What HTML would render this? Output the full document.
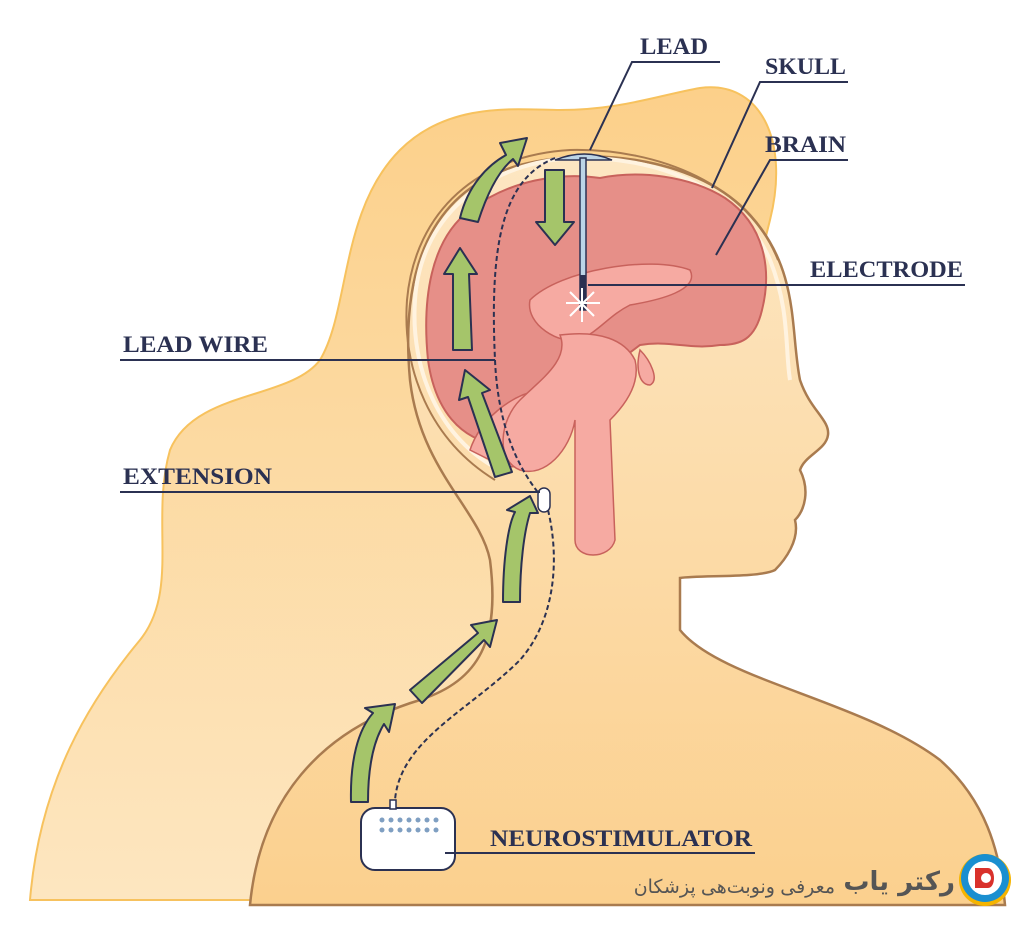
<!DOCTYPE html>
<html><head><meta charset="utf-8"><style>
html,body{margin:0;padding:0;background:#fff;width:1024px;height:926px;overflow:hidden}
text{font-family:"Liberation Serif",serif;font-weight:bold;fill:#2b3152}
</style></head><body>
<svg width="1024" height="926" viewBox="0 0 1024 926" xmlns="http://www.w3.org/2000/svg">
<defs>
<linearGradient id="hair" x1="0" y1="0" x2="0" y2="1"><stop offset="0" stop-color="#fcd08a"/><stop offset="1" stop-color="#fde6c0"/></linearGradient>
<linearGradient id="skin" x1="0" y1="0" x2="0" y2="1"><stop offset="0" stop-color="#fde6c2"/><stop offset="1" stop-color="#fbd08e"/></linearGradient>
</defs>
<path d="M30 900 C40 780 90 700 140 640 C180 590 150 520 170 450 C195 390 290 400 320 360 C350 310 340 210 400 150 C450 100 520 110 560 110 C620 110 660 95 700 88 C760 80 790 140 770 220 L760 260 L560 580 L560 900 Z" fill="url(#hair)" stroke="#f7c25e" stroke-width="2"/>
<path d="M250 905 C260 800 320 730 420 700 C480 680 500 640 490 560 C480 510 420 470 410 380 C400 270 430 190 520 165 C600 145 700 160 750 215 C800 270 790 330 800 380 C810 410 830 420 828 435 C826 450 805 455 800 470 C810 490 805 510 795 520 C800 540 785 560 775 570 C760 578 700 575 680 578 L680 630 C720 680 860 700 940 760 C985 800 1000 850 1005 905 Z" fill="url(#skin)" stroke="#a97b4f" stroke-width="2.5"/>
<path d="M500 470 C440 440 410 370 415 300 C420 220 480 165 570 158 C660 155 740 190 770 260 C790 310 785 350 790 380" fill="none" stroke="#fff3e0" stroke-width="4"/>
<path d="M495 480 C430 440 402 370 407 300 C415 210 480 155 570 150 C660 148 748 185 778 260" fill="none" stroke="#a97b4f" stroke-width="2"/>
<!-- brain -->
<path d="M500 445 C460 440 435 410 428 360 C422 300 430 240 470 210 C510 180 560 172 600 178 C640 170 690 176 725 198 C765 225 772 270 762 310 C755 340 740 345 720 345 C690 350 670 340 640 345 L620 360 C600 380 590 390 570 400 C550 420 530 440 500 445 Z" fill="#e68f88" stroke="#c8625c" stroke-width="2"/>
<path d="M470 450 C480 420 510 395 540 390 C560 395 565 420 560 440 C550 465 520 470 500 465 Z" fill="#f6aaa2" stroke="#c8625c" stroke-width="1.5"/>
<path d="M530 300 C560 270 650 255 690 270 C700 290 660 300 630 305 C610 315 600 330 580 340 C560 345 525 325 530 300 Z" fill="#f6aaa2" stroke="#c8625c" stroke-width="1.5"/>
<path d="M560 335 C570 360 540 380 520 400 C500 420 495 460 520 470 C545 478 570 450 575 420 L575 540 C575 560 610 560 615 540 L610 420 C630 400 640 380 635 360 C625 340 600 330 560 335 Z" fill="#f6aaa2" stroke="#c8625c" stroke-width="1.5"/>
<path d="M640 350 C650 360 660 380 650 385 C640 385 635 370 640 350 Z" fill="#f6aaa2" stroke="#c8625c" stroke-width="1.5"/>
<path d="M555 160 Q585 148 612 160 Z" fill="#bcd4e6" stroke="#2b3152" stroke-width="1.5"/>
<rect x="580" y="158" width="6" height="152" fill="#bcd4e6" stroke="#2b3152" stroke-width="1.5"/>
<rect x="580" y="275" width="6" height="35" fill="#2b3152"/>
<g stroke="#fff" stroke-width="2"><line x1="566" y1="303" x2="600" y2="303"/><line x1="582" y1="288" x2="582" y2="322"/><line x1="570" y1="292" x2="594" y2="316"/><line x1="594" y1="292" x2="570" y2="316"/></g>
<path d="M555 158 C500 180 490 250 495 360 C498 430 520 470 540 495 M548 510 C560 560 555 620 520 660 C470 710 400 740 395 800" fill="none" stroke="#2b3152" stroke-width="2" stroke-dasharray="5,3"/>
<rect x="538" y="488" width="12" height="24" rx="6" fill="#fff" stroke="#2b3152" stroke-width="1.5"/>
<g fill="#a5c56a" stroke="#2b3152" stroke-width="2" stroke-linejoin="round">
<path d="M460 218 C468 185 488 165 506 155 L500 143 L527 138 L518 166 L513 159 C497 172 486 197 478 222 Z"/>
<path d="M545 170 L564 170 L564 222 L574 222 L555 245 L536 222 L545 222 Z"/>
<path d="M453 350 L453 274 L444 274 L460 248 L477 274 L469 274 L472 350 Z"/>
<path d="M495 477 L468 397 L459 400 L465 370 L490 390 L482 393 L512 472 Z"/>
<path d="M503 602 C503 560 508 525 515 512 L507 510 L530 496 L538 513 L530 513 C524 532 520 565 520 602 Z"/>
<path d="M410 690 L478 633 L471 625 L497 620 L490 647 L484 640 L422 703 Z"/>
<path d="M351 802 C350 760 358 730 373 713 L365 708 L395 704 L389 732 L384 724 C373 742 368 770 368 802 Z"/>
</g>
<rect x="361" y="808" width="94" height="62" rx="14" fill="#fff" stroke="#2b3152" stroke-width="2"/>
<rect x="390" y="800" width="6" height="9" fill="#fff" stroke="#2b3152" stroke-width="1.5"/>
<g fill="#7f9fc2"><circle cx="382" cy="820" r="2.5"/><circle cx="391" cy="820" r="2.5"/><circle cx="400" cy="820" r="2.5"/><circle cx="409" cy="820" r="2.5"/><circle cx="418" cy="820" r="2.5"/><circle cx="427" cy="820" r="2.5"/><circle cx="436" cy="820" r="2.5"/>
<circle cx="382" cy="830" r="2.5"/><circle cx="391" cy="830" r="2.5"/><circle cx="400" cy="830" r="2.5"/><circle cx="409" cy="830" r="2.5"/><circle cx="418" cy="830" r="2.5"/><circle cx="427" cy="830" r="2.5"/><circle cx="436" cy="830" r="2.5"/></g>
<g stroke="#2b3152" stroke-width="2" fill="none">
<path d="M720 62 L632 62 L590 150"/>
<path d="M848 82 L760 82 L712 188"/>
<path d="M848 160 L770 160 L716 255"/>
<path d="M965 285 L588 285"/>
<path d="M120 360 L495 360"/>
<path d="M120 492 L540 492"/>
<path d="M445 853 L755 853"/>
</g>
<text x="640" y="54" font-size="23" textLength="68" lengthAdjust="spacingAndGlyphs">LEAD</text>
<text x="765" y="74" font-size="23" textLength="81" lengthAdjust="spacingAndGlyphs">SKULL</text>
<text x="765" y="152" font-size="23" textLength="81" lengthAdjust="spacingAndGlyphs">BRAIN</text>
<text x="810" y="277" font-size="23" textLength="153" lengthAdjust="spacingAndGlyphs">ELECTRODE</text>
<text x="123" y="352" font-size="23" textLength="145" lengthAdjust="spacingAndGlyphs">LEAD WIRE</text>
<text x="123" y="484" font-size="23" textLength="149" lengthAdjust="spacingAndGlyphs">EXTENSION</text>
<text x="490" y="846" font-size="23" textLength="262" lengthAdjust="spacingAndGlyphs">NEUROSTIMULATOR</text>
<text x="835" y="893" font-size="19" text-anchor="end" style="font-family:'Liberation Sans','DejaVu Sans',sans-serif;font-weight:normal;fill:#555">معرفی ونوبت‌هی پزشکان</text>
<text x="955" y="890" font-size="26" text-anchor="end" style="font-family:'DejaVu Sans',sans-serif;fill:#555">رکتر یاب</text>
<circle cx="985" cy="880" r="26" fill="#f5b400"/>
<circle cx="985" cy="878" r="24" fill="#1a8fd0"/>
<circle cx="985" cy="878" r="17" fill="#fff"/>
<path d="M975 868 L988 868 C996 868 996 888 988 888 L975 888 Z" fill="#d9312b"/>
<circle cx="986" cy="878" r="5" fill="#fff"/>
</svg>
</body></html>
